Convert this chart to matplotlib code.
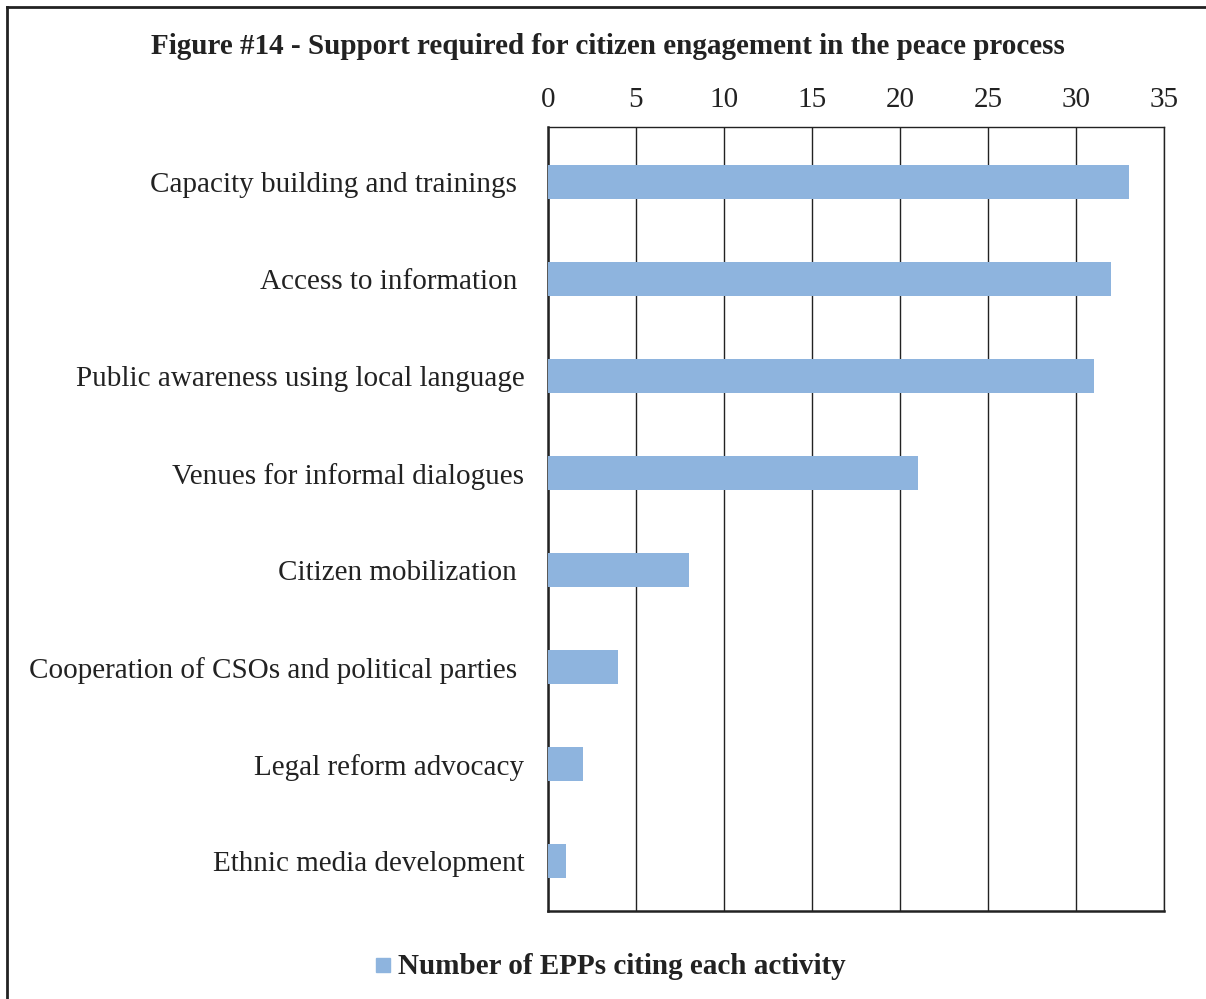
import matplotlib
matplotlib.use('Agg')
import matplotlib.pyplot as plt
from matplotlib.lines import Line2D
from matplotlib.patches import Rectangle

categories = [
    'Capacity building and trainings ',
    'Access to information ',
    'Public awareness using local language',
    'Venues for informal dialogues',
    'Citizen mobilization ',
    'Cooperation of CSOs and political parties ',
    'Legal reform advocacy',
    'Ethnic media development',
]
values = [33, 32, 31, 21, 8, 4, 2, 1]
xticks = [0, 5, 10, 15, 20, 25, 30, 35]
title = 'Figure #14 - Support required for citizen engagement in the peace process'
series_name = 'Number of EPPs citing each activity'

bar_color = '#8EB4DE'
plt.rcParams['font.family'] = ['Liberation Serif', 'DejaVu Serif']

W, H = 1206, 999
fig = plt.figure(figsize=(W / 100, H / 100), dpi=100)
ax = fig.add_axes([548 / W, 1 - 911 / H, (1164 - 548) / W, (911 - 127) / H])

pos = list(range(len(categories)))
ax.barh(pos, values, height=0.35, color=bar_color, zorder=3)
ax.set_ylim(7.515, -0.567)
ax.set_xlim(0, 35)
ax.set_xticks(xticks)
ax.xaxis.tick_top()
ax.tick_params(axis='x', length=0, labelsize=21, pad=10, colors='#222222')
ax.set_yticks(pos)
ax.set_yticklabels(categories)
ax.tick_params(axis='y', length=0, labelsize=21, pad=17, colors='#222222')
ax.grid(axis='x', color='#222222', linewidth=1.0, zorder=1)
for side in ['left', 'bottom']:
    ax.spines[side].set_linewidth(1.8)
    ax.spines[side].set_color('#222222')
for side in ['top', 'right']:
    ax.spines[side].set_linewidth(1.0)
    ax.spines[side].set_color('#222222')

fig.text(608 / W, 1 - 47 / H, title, ha='center', va='center',
         fontsize=21, fontweight='bold', color='#222222')

# legend
fig.patches.append(Rectangle((376 / W, 1 - 972 / H), 14 / W, 14 / H,
                             transform=fig.transFigure, color=bar_color))
fig.text(398 / W, 1 - 967 / H, series_name, ha='left', va='center',
         fontsize=21, fontweight='bold', color='#222222')

# outer frame
fig.add_artist(Line2D([7 / W, 7 / W], [0, 1 - 7 / H], transform=fig.transFigure,
                      color='#222222', linewidth=2))
fig.add_artist(Line2D([7 / W, 1], [1 - 7 / H, 1 - 7 / H], transform=fig.transFigure,
                      color='#222222', linewidth=2))

fig.savefig('out.png', dpi=100)
